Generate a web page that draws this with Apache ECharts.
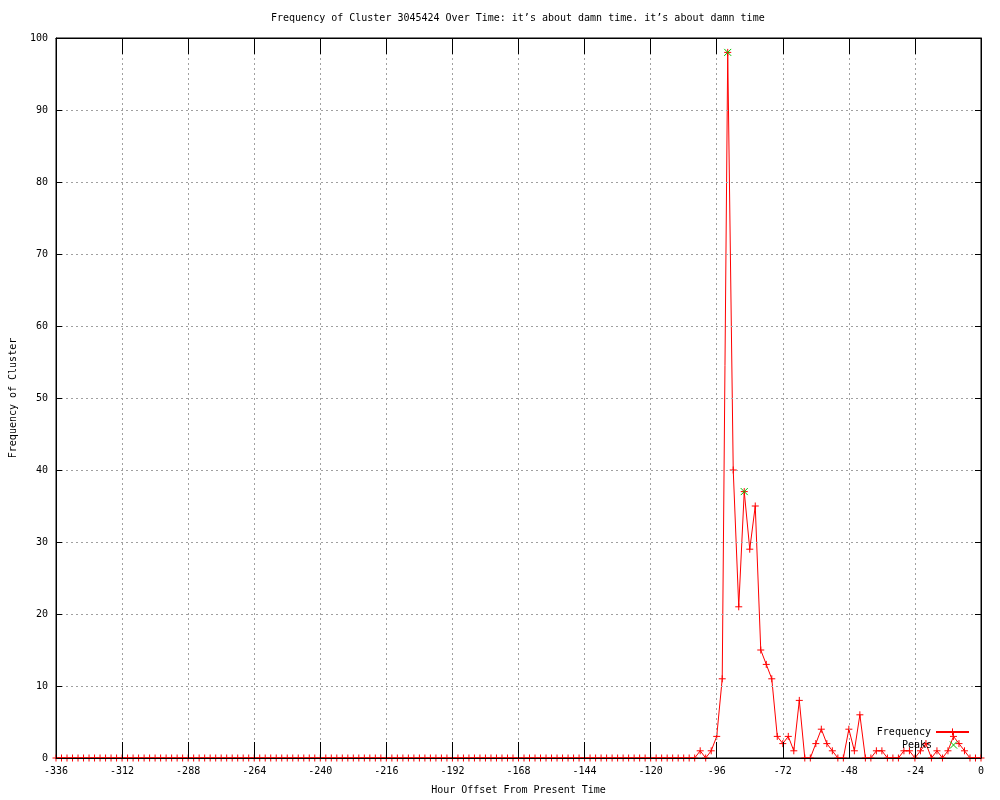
<!DOCTYPE html>
<html>
<head>
<meta charset="utf-8">
<script src="https://cdn.jsdelivr.net/npm/echarts@6/dist/echarts.min.js"></script>
<style>html,body{margin:0;padding:0;background:#fff}#c{width:1000px;height:800px}</style>
</head>
<body>
<div id="c"></div>
<script>
const titleText = "Frequency of Cluster 3045424 Over Time: it\u2019s about damn time. it\u2019s about damn time";
const xAxisName = "Hour Offset From Present Time";
const yAxisName = "Frequency of Cluster";
const seriesNames = ["Frequency", "Peaks"];

const hours = [
  -336,-334,-332,-330,-328,-326,-324,-322,-320,-318,-316,-314,
  -312,-310,-308,-306,-304,-302,-300,-298,-296,-294,-292,-290,
  -288,-286,-284,-282,-280,-278,-276,-274,-272,-270,-268,-266,
  -264,-262,-260,-258,-256,-254,-252,-250,-248,-246,-244,-242,
  -240,-238,-236,-234,-232,-230,-228,-226,-224,-222,-220,-218,
  -216,-214,-212,-210,-208,-206,-204,-202,-200,-198,-196,-194,
  -192,-190,-188,-186,-184,-182,-180,-178,-176,-174,-172,-170,
  -168,-166,-164,-162,-160,-158,-156,-154,-152,-150,-148,-146,
  -144,-142,-140,-138,-136,-134,-132,-130,-128,-126,-124,-122,
  -120,-118,-116,-114,-112,-110,-108,-106,-104,-102,-100,-98,
  -96,-94,-92,-90,-88,-86,-84,-82,-80,-78,-76,-74,
  -72,-70,-68,-66,-64,-62,-60,-58,-56,-54,-52,-50,
  -48,-46,-44,-42,-40,-38,-36,-34,-32,-30,-28,-26,
  -24,-22,-20,-18,-16,-14,-12,-10,-8,-6,-4,-2,
  0
];
const frequency = [
  0,0,0,0,0,0,0,0,0,0,0,0,
  0,0,0,0,0,0,0,0,0,0,0,0,
  0,0,0,0,0,0,0,0,0,0,0,0,
  0,0,0,0,0,0,0,0,0,0,0,0,
  0,0,0,0,0,0,0,0,0,0,0,0,
  0,0,0,0,0,0,0,0,0,0,0,0,
  0,0,0,0,0,0,0,0,0,0,0,0,
  0,0,0,0,0,0,0,0,0,0,0,0,
  0,0,0,0,0,0,0,0,0,0,0,0,
  0,0,0,0,0,0,0,0,0,1,0,1,
  3,11,98,40,21,37,29,35,15,13,11,3,
  2,3,1,8,0,0,2,4,2,1,0,0,
  4,1,6,0,0,1,1,0,0,0,1,1,
  0,1,2,0,1,0,1,3,2,1,0,0,
  0
];
const peakHours = [-92, -86];
const peakValues = [98, 37];

const FONT = "'DejaVu Sans Mono', monospace";
const freqData = hours.map((h, i) => [h, frequency[i]]);
const peakData = peakHours.map((h, i) => [h, peakValues[i]]);

const plusPath = 'path://M0,5L10,5M5,0L5,10';
const crossPath = 'path://M0,0L10,10M10,0L0,10';

const chart = echarts.init(document.getElementById('c'), null, {renderer: 'canvas'});
const gridLine = {show: true, lineStyle: {color: '#a0a0a0', type: [2, 3], width: 1}};
const labelStyle = {fontFamily: FONT, fontSize: 10, color: '#000'};
const axLine = {show: true, onZero: false, lineStyle: {color: '#000', width: 1}};

chart.setOption({
  animation: false,
  backgroundColor: '#fff',
  title: {
    text: titleText, left: 271, top: 13, padding: 0,
    textStyle: {fontFamily: FONT, fontSize: 10, fontWeight: 'normal', color: '#000'}
  },
  grid: {left: 55, right: 19, top: 38, bottom: 40, containLabel: false,
         show: true, borderColor: '#000', borderWidth: 1, backgroundColor: 'transparent'},
  legend: [
    {data: [seriesNames[0]], orient: 'vertical', right: 30, top: 727, align: 'right',
     itemWidth: 33, itemHeight: 9, padding: 0, textStyle: labelStyle,
     itemStyle: {borderWidth: 1}},
    {data: [seriesNames[1]], orient: 'vertical', right: 30, top: 740, align: 'right',
     itemWidth: 33, itemHeight: 9, padding: 0, textStyle: labelStyle,
     itemStyle: {borderWidth: 1}}
  ],
  xAxis: [
    {type: 'value', position: 'bottom', min: -336, max: 0, interval: 24, z: 3,
     axisLine: axLine,
     axisTick: {show: true, inside: true, length: 16, lineStyle: {color: '#000'}},
     axisLabel: Object.assign({margin: 8}, labelStyle),
     splitLine: gridLine,
     name: xAxisName, nameLocation: 'middle', nameGap: 27,
     nameTextStyle: labelStyle},
    {type: 'value', position: 'top', min: -336, max: 0, interval: 24, z: 3,
     axisLine: axLine,
     axisTick: {show: true, inside: true, length: 16, lineStyle: {color: '#000'}},
     axisLabel: {show: false}, splitLine: {show: false}}
  ],
  yAxis: [
    {type: 'value', position: 'left', min: 0, max: 100, interval: 10, z: 3,
     axisLine: axLine,
     axisTick: {show: true, inside: true, length: 6, lineStyle: {color: '#000'}},
     axisLabel: Object.assign({margin: 8}, labelStyle),
     splitLine: gridLine,
     name: yAxisName, nameLocation: 'middle', nameGap: 38,
     nameTextStyle: labelStyle},
    {type: 'value', position: 'right', min: 0, max: 100, interval: 10, z: 3,
     axisLine: axLine,
     axisTick: {show: true, inside: true, length: 6, lineStyle: {color: '#000'}},
     axisLabel: {show: false}, splitLine: {show: false}}
  ],
  series: [
    {name: seriesNames[0], type: 'line', data: freqData, xAxisIndex: 0, yAxisIndex: 0,
     symbol: plusPath, symbolSize: 7, showSymbol: true, showAllSymbol: true,
     lineStyle: {color: '#ff0000', width: 1},
     itemStyle: {color: '#ff0000', borderColor: '#ff0000', borderWidth: 1},
     emphasis: {disabled: true}, clip: false, z: 2},
    {name: seriesNames[1], type: 'line', data: peakData, xAxisIndex: 0, yAxisIndex: 0,
     symbol: crossPath, symbolSize: 7, showSymbol: true,
     lineStyle: {color: '#00c000', width: 0, opacity: 0},
     itemStyle: {color: '#00c000', borderColor: '#00c000', borderWidth: 1},
     emphasis: {disabled: true}, clip: false, z: 4}
  ]
});
</script>
</body>
</html>
